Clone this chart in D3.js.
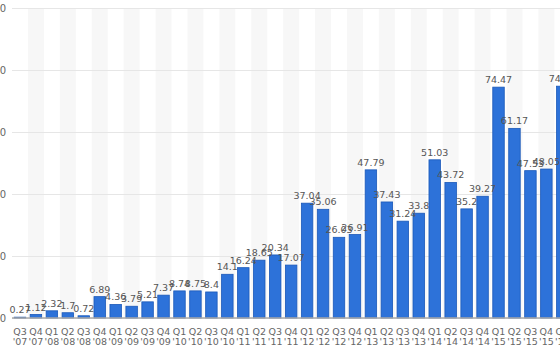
<!DOCTYPE html>
<html>
<head>
<meta charset="utf-8">
<script src="https://cdn.jsdelivr.net/npm/d3@7"></script>
<style>
  html, body { margin: 0; padding: 0; background: #fff; }
  svg { display: block; font-family: "DejaVu Sans", sans-serif; }
</style>
</head>
<body>
<svg id="chart" width="560" height="350"></svg>
<script>
// Quarterly unit sales (millions)
const quarters = ["Q3","Q4","Q1","Q2","Q3","Q4","Q1","Q2","Q3","Q4","Q1","Q2","Q3","Q4",
  "Q1","Q2","Q3","Q4","Q1","Q2","Q3","Q4","Q1","Q2","Q3","Q4","Q1","Q2","Q3","Q4",
  "Q1","Q2","Q3","Q4","Q1"];
const years = ["'07","'07","'08","'08","'08","'08","'09","'09","'09","'09","'10","'10","'10","'10",
  "'11","'11","'11","'11","'12","'12","'12","'12","'13","'13","'13","'13","'14","'14","'14","'14",
  "'15","'15","'15","'15","'16"];
const sales = [0.27, 1.12, 2.32, 1.7, 0.72, 6.89, 4.36, 3.79, 5.21, 7.37, 8.74, 8.75, 8.4, 14.1,
  16.24, 18.65, 20.34, 17.07, 37.04, 35.06, 26.03, 26.91, 47.79, 37.43, 31.24, 33.8,
  51.03, 43.72, 35.2, 39.27, 74.47, 61.17, 47.53, 48.05, 74.78];
const yTicks = [0, 20, 40, 60, 80, 100];

const svg = d3.select("#chart");
const W = 560;
const ids = d3.range(sales.length);

const x = d3.scaleBand().domain(ids).range([12, 570.3]).paddingInner(0.28).paddingOuter(0.14);
const xs = d3.scaleBand().domain(ids).range([12, 570.3]).padding(0); // full-step columns
const y = d3.scaleLinear().domain([0, 100]).range([318, 8]);

// alternating column shading
svg.append("g").selectAll("rect")
  .data(ids.filter(i => i % 2 === 1))
  .join("rect")
  .attr("x", i => xs(i))
  .attr("y", y(100))
  .attr("width", xs.bandwidth())
  .attr("height", y(0) - y(100))
  .attr("fill", "#f7f7f7");

// horizontal gridlines + y labels
const yAxis = d3.axisLeft(y).tickValues(yTicks).tickSize(-(W - 12)).tickFormat(d3.format("d")).tickPadding(0);
const gy = svg.append("g").attr("transform", "translate(12,0)").call(yAxis);
gy.select(".domain").remove();
gy.selectAll(".tick line").attr("stroke", "#e6e6e6").attr("stroke-width", 1);
gy.selectAll(".tick text")
  .attr("x", -6)
  .attr("fill", "#666")
  .attr("font-size", 10)
  .attr("font-family", "DejaVu Sans, sans-serif");

// bars
svg.append("g").selectAll("rect")
  .data(ids)
  .join("rect")
  .attr("x", i => x(i))
  .attr("y", i => y(sales[i]))
  .attr("width", x.bandwidth())
  .attr("height", i => y(0) - y(sales[i]))
  .attr("fill", "#2d72d9")
  .attr("stroke", "#1a58b8")
  .attr("stroke-width", 0.8);

// baseline
svg.append("line")
  .attr("x1", 12).attr("x2", W)
  .attr("y1", y(0)).attr("y2", y(0))
  .attr("stroke", "#aaa").attr("stroke-width", 1.5);

// value labels
svg.append("g").selectAll("text")
  .data(ids)
  .join("text")
  .attr("x", i => x(i) + x.bandwidth() / 2)
  .attr("y", i => y(sales[i]) - 4)
  .attr("text-anchor", "middle")
  .attr("font-size", 9.5)
  .attr("fill", "#555")
  .text(i => String(sales[i]));

// category labels (quarter / year)
const xAxis = d3.axisBottom(x).tickSize(0).tickFormat(() => "");
const gx = svg.append("g").attr("transform", `translate(0,${y(0)})`).call(xAxis);
gx.select(".domain").remove();
gx.selectAll(".tick text").remove();
gx.selectAll(".tick").each(function (i) {
  const t = d3.select(this).append("text")
    .attr("text-anchor", "middle")
    .attr("fill", "#666")
    .attr("font-size", 9.5)
    .attr("font-family", "DejaVu Sans, sans-serif");
  t.append("tspan").attr("x", 0).attr("y", 17).text(quarters[i]);
  t.append("tspan").attr("x", 0).attr("y", 27).text(years[i]);
});
</script>
</body>
</html>
